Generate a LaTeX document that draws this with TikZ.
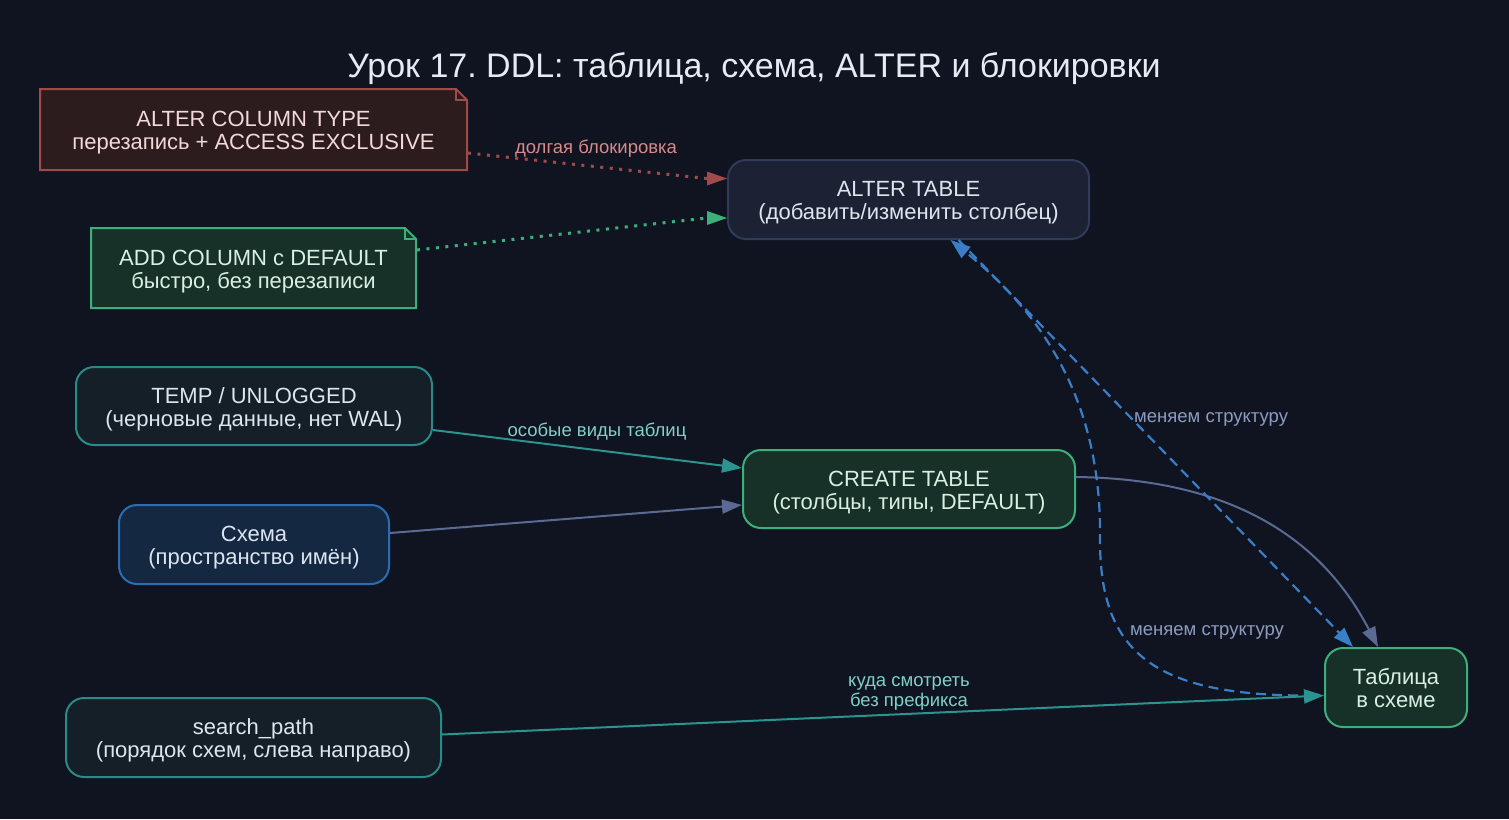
\documentclass[tikz,border=0pt]{standalone}
\usepackage{fontspec}
\setmainfont{Liberation Sans}
\usetikzlibrary{arrows.meta,calc}
\frenchspacing
\definecolor{bg}{HTML}{0F1420}
\definecolor{titlec}{HTML}{E6EAF2}
\definecolor{altfill}{HTML}{1C2233}
\definecolor{altdraw}{HTML}{2F3B58}
\definecolor{redfill}{HTML}{2D1C1E}
\definecolor{reddraw}{HTML}{A04A4A}
\definecolor{redtext}{HTML}{F2D8D8}
\definecolor{grnfill}{HTML}{183128}
\definecolor{grndraw}{HTML}{3DB07A}
\definecolor{grntext}{HTML}{D8F0E2}
\definecolor{tealfill}{HTML}{141F27}
\definecolor{tealdraw}{HTML}{2A8A88}
\definecolor{bluefill}{HTML}{142842}
\definecolor{bluedraw}{HTML}{2D6CB0}
\definecolor{nodetext}{HTML}{DDE6F0}
\definecolor{greyblue}{HTML}{5A6A92}
\definecolor{dashblue}{HTML}{3A7EC8}
\definecolor{tealedge}{HTML}{2A9490}
\definecolor{redlabel}{HTML}{D98A8A}
\definecolor{teallabel}{HTML}{7FD0C8}
\definecolor{bluelabel}{HTML}{8C9CC0}
\newcommand{\nt}[2]{\raisebox{-4pt}[\height][\depth]{\begin{tabular}{@{}c@{}}#1\\#2\end{tabular}}}
\tikzset{
  box/.style={rounded corners=18pt, line width=2pt, align=center, inner sep=0pt,
    font=\fontsize{22}{23}\selectfont, text=nodetext},
  notebox/.style={line width=2pt, align=center, inner sep=0pt,
    font=\fontsize{22}{23}\selectfont},
  elabel/.style={font=\fontsize{18.5}{20}\selectfont, inner sep=1pt},
  tip/.style={-{Triangle[length=20pt,width=14pt]}},
  arr/.style={tip, line width=2pt},
  dotline/.style={line width=3pt, dash pattern=on 3pt off 6.5pt},
  dashline/.style={line width=2.2pt, dash pattern=on 10pt off 6pt},
}
\newcommand{\notecorner}[3]{%
  \fill[#2] (#1.north west) -- ($(#1.north east)+(-11,0)$) -- ($(#1.north east)+(0,11)$) -- (#1.south east) -- (#1.south west) -- cycle;
  \draw[#3, line width=2pt, line join=miter] (#1.north west) -- ($(#1.north east)+(-11,0)$) -- ($(#1.north east)+(0,11)$) -- (#1.south east) -- (#1.south west) -- cycle;
  \draw[#3, line width=2pt] ($(#1.north east)+(-11,0)$) -- ($(#1.north east)+(-11,11)$) -- ($(#1.north east)+(0,11)$);
}
\begin{document}
\begin{tikzpicture}[x=1pt,y=-1pt]
\fill[bg] (0,0) rectangle (1509,819);
\useasboundingbox (0,0) rectangle (1509,819);

\node[font=\fontsize{34}{38}\selectfont, text=titlec] (title) at (754,69) {Урок 17. DDL: таблица, схема, ALTER и блокировки};

% note nodes
\node[notebox, minimum width=425pt, minimum height=79pt] (act) at (253.5,129.5) {};
\notecorner{act}{redfill}{reddraw}
\node[notebox, text=redtext] (actt) at (act) {\nt{ALTER COLUMN TYPE}{перезапись + ACCESS EXCLUSIVE}};

\node[notebox, minimum width=323pt, minimum height=78pt] (add) at (253.5,268) {};
\notecorner{add}{grnfill}{grndraw}
\node[notebox, text=grntext] (addt) at (add) {\nt{ADD COLUMN с DEFAULT}{быстро, без перезаписи}};

% boxes
\node[box, fill=altfill, draw=altdraw, minimum width=361pt, minimum height=79pt] (alt) at (908.5,199.5) {\nt{ALTER TABLE}{(добавить/изменить столбец)}};
\node[box, fill=tealfill, draw=tealdraw, minimum width=356pt, minimum height=78pt] (tmp) at (254,406) {\nt{TEMP / UNLOGGED}{(черновые данные, нет WAL)}};
\node[box, fill=bluefill, draw=bluedraw, minimum width=270pt, minimum height=79pt] (sch) at (254,544.5) {\nt{Схема}{(пространство имён)}};
\node[box, fill=grnfill, draw=grndraw, text=grntext, minimum width=332pt, minimum height=78pt] (crt) at (909,489) {\nt{CREATE TABLE}{(столбцы, типы, DEFAULT)}};
\node[box, fill=grnfill, draw=grndraw, text=grntext, minimum width=142pt, minimum height=79pt] (tbl) at (1396,687.5) {\nt{Таблица}{в схеме}};
\node[box, fill=tealfill, draw=tealdraw, minimum width=375pt, minimum height=79pt] (sp) at (253.5,737.5) {\nt{search\_path}{(порядок схем, слева направо)}};

% edges
\draw[dotline, reddraw] ($(act.east)+(1,23.5)$) -- ($(alt.west)+(-20,-21)$);
\draw[reddraw, tip, line width=0pt] ($(alt.west)+(-20,-21)$) -- ($(alt.west)+(0,-21)$);
\node[elabel, text=redlabel] (l1) at (596,149) {долгая блокировка};

\draw[dotline, grndraw] ($(add.east)+(1,-18)$) -- ($(alt.west)+(-20,18.5)$);
\draw[grndraw, tip, line width=0pt] ($(alt.west)+(-20,18.5)$) -- ($(alt.west)+(0,18.5)$);

\draw[arr, tealedge] ($(tmp.east)+(0,24)$) -- ($(crt.west)+(0,-21)$);
\node[elabel, text=teallabel] (l2) at (597,432) {особые виды таблиц};

\draw[arr, greyblue] ($(sch.east)+(0,-11.5)$) -- ($(crt.west)+(0,16)$);

\draw[arr, greyblue] ($(crt.east)+(0,-12)$) .. controls (1240,479) and (1325,545) .. ($(tbl.north)+(-18,0)$);

\draw[dashline, dashblue, tip] ($(alt.south)+(50,0)$) -- node[elabel, text=bluelabel, pos=0.44, anchor=west] (l3) {меняем структуру} ($(tbl.north)+(-43,0)$);

\draw[dashline, dashblue, tip] ($(tbl.west)+(-10,8)$) .. controls (1150,697) and (1100,650) .. (1100,540) .. controls (1102,410) and (1050,320) .. ($(alt.south)+(42,0)$);
\node[elabel, text=bluelabel] (l4) at (1207,632) {меняем структуру};

\draw[arr, tealedge] ($(sp.east)+(0,-3)$) -- ($(tbl.west)+(0,8)$);
\node[elabel, text=teallabel, align=center] (l5) at (909,693) {куда смотреть\\без префикса};
\end{tikzpicture}
\end{document}
